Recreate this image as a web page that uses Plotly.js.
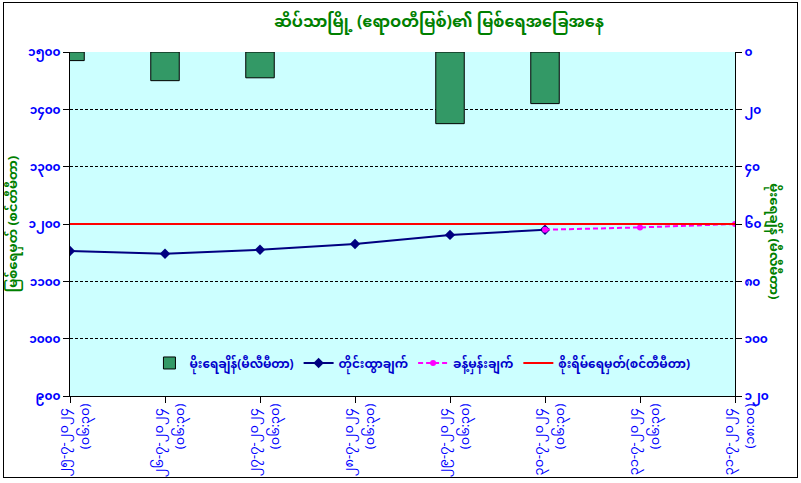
<!DOCTYPE html>
<html>
<head>
<meta charset="utf-8">
<script src="https://cdn.plot.ly/plotly-3.0.1.min.js"></script>
<style>
  body { margin: 0; background: #fff; }
  #wrap { position: relative; width: 801px; height: 483px; }
  #plot1 { width: 801px; height: 483px; }
  #frame { position: absolute; left: 3px; top: 2px; width: 793px; height: 474px;
           border: 1px solid #000; pointer-events: none; }
</style>
</head>
<body>
<div id="wrap">
  <div id="plot1"></div>
  <div id="frame"></div>
</div>
<script>
  var mmFont = 'Noto Sans Myanmar, Padauk, Myanmar Text, Myanmar3, Noto Sans, sans-serif';

  var dates = ['၂၅-၇-၂၀၂၄', '၂၆-၇-၂၀၂၄', '၂၇-၇-၂၀၂၄', '၂၈-၇-၂၀၂၄',
               '၂၉-၇-၂၀၂၄', '၃၀-၇-၂၀၂၄', '၃၁-၇-၂၀၂၄', '၃၁-၇-၂၀၂၄'];
  var times = ['(၀၆:၃၀)', '(၀၆:၃၀)', '(၀၆:၃၀)', '(၀၆:၃၀)',
               '(၀၆:၃၀)', '(၀၆:၃၀)', '(၀၆:၃၀)', '(၁၈:၀၀)'];
  var rainfall = [3, 10, 9, null, 25, 18, null, null];
  var observed = [1153, 1148, 1155, 1165, 1181, 1190, null, null];
  var forecast = [null, null, null, null, null, 1190, 1194, 1200];
  var warning = [1200, 1200, 1200, 1200, 1200, 1200, 1200, 1200];

  var levelTicks = [900, 1000, 1100, 1200, 1300, 1400, 1500];
  var levelLabels = ['၉၀၀', '၁၀၀၀', '၁၁၀၀', '၁၂၀၀', '၁၃၀၀', '၁၄၀၀', '၁၅၀၀'];
  var rainTicks = [0, 20, 40, 60, 80, 100, 120];
  var rainLabels = ['၀', '၂၀', '၄၀', '၆၀', '၈၀', '၁၀၀', '၁၂၀'];

  // one category key per reading (date + time), labels split over two axes
  var categories = dates.map(function (d, i) { return d + ' ' + times[i]; });

  var rain = {
    x: categories, y: rainfall, yaxis: 'y2', type: 'bar',
    name: 'မိုးရေချိန်(မီလီမီတာ)', width: 0.3,
    marker: {color: '#339966', line: {color: '#000', width: 1}}
  };
  var obs = {
    x: categories, y: observed, type: 'scatter', mode: 'lines+markers',
    name: 'တိုင်းထွာချက်',
    line: {color: '#000080', width: 2},
    marker: {symbol: 'diamond', size: 8, color: '#000080'}
  };
  var fc = {
    x: categories, y: forecast, type: 'scatter', mode: 'lines+markers',
    name: 'ခန့်မှန်းချက်',
    line: {color: '#ff00ff', width: 2, dash: '5px,3px'},
    marker: {symbol: 'circle', size: 6, color: '#ff00ff'}
  };
  var warn = {
    x: categories, y: warning, xaxis: 'x2', type: 'scatter', mode: 'lines',
    name: 'စိုးရိမ်ရေမှတ်(စင်တီမီတာ)',
    line: {color: '#ff0000', width: 2}
  };

  var data = [rain, obs, fc, warn];

  var tickFont = {family: mmFont, size: 12, color: '#0000ff', weight: 'bold'};
  var xFont = {family: mmFont, size: 13, color: '#0000ff'};

  var layout = {
    width: 801, height: 483,
    margin: {l: 70, r: 66, t: 52, b: 87},
    paper_bgcolor: '#fff', plot_bgcolor: '#ccffff',
    font: {family: mmFont, color: '#0000cc', size: 12},
    showlegend: true,
    title: {text: '<b>ဆိပ်သာမြို့ (ဧရာဝတီမြစ်)၏ မြစ်ရေအခြေအနေ</b>',
            font: {family: mmFont, size: 16, color: '#008000'},
            x: 0.548, xref: 'container', xanchor: 'center', y: 0.955, yanchor: 'middle'},
    xaxis: {
      type: 'category', range: [0, 7], tickangle: -90,
      tickvals: categories, ticktext: dates, ticklabelshift: -6,
      showline: true, linecolor: '#000', linewidth: 1,
      ticks: 'outside', ticklen: 6, tickcolor: '#000',
      showgrid: false, fixedrange: true,
      tickfont: xFont
    },
    xaxis2: {
      type: 'category', overlaying: 'x', matches: 'x', side: 'bottom', anchor: 'y',
      tickangle: -90, tickvals: categories, ticktext: times, ticklabelshift: 15,
      ticklabelstandoff: 4,
      showline: false, ticks: '', showgrid: false, fixedrange: true,
      tickfont: xFont
    },
    yaxis: {
      range: [900, 1500], tickvals: levelTicks, ticktext: levelLabels,
      showline: true, linecolor: '#000', linewidth: 1,
      ticks: 'outside', ticklen: 6, tickcolor: '#000',
      showgrid: true, gridcolor: '#000', griddash: '3px,2px', gridwidth: 1,
      zeroline: false,
      tickfont: tickFont,
      title: {text: '<b>မြစ်ရေမှတ် (စင်တီမီတာ)</b>', standoff: 8,
              font: {family: mmFont, size: 13, color: '#008000'}}
    },
    yaxis2: {
      overlaying: 'y', side: 'right', range: [120, 0],
      tickvals: rainTicks, ticktext: rainLabels,
      showline: true, linecolor: '#000', linewidth: 1,
      ticks: 'outside', ticklen: 6, tickcolor: '#000',
      showgrid: false, zeroline: false,
      tickfont: tickFont
    },
    legend: {
      orientation: 'h', x: 0.53, xanchor: 'center', y: 0.096, yanchor: 'middle',
      bgcolor: 'rgba(0,0,0,0)', traceorder: 'normal',
      font: {family: mmFont, size: 12, color: '#0000cc', weight: 'bold'}
    },
    annotations: [{
      text: '<b>မိုးရေချိန် (မီလီမီတာ)</b>', textangle: 90,
      xref: 'paper', yref: 'paper', x: 1.057, y: 0.45,
      xanchor: 'center', yanchor: 'middle', showarrow: false,
      font: {family: mmFont, size: 13, color: '#008000'}
    }]
  };

  Plotly.newPlot('plot1', data, layout, {displayModeBar: false, staticPlot: true});
</script>
</body>
</html>
